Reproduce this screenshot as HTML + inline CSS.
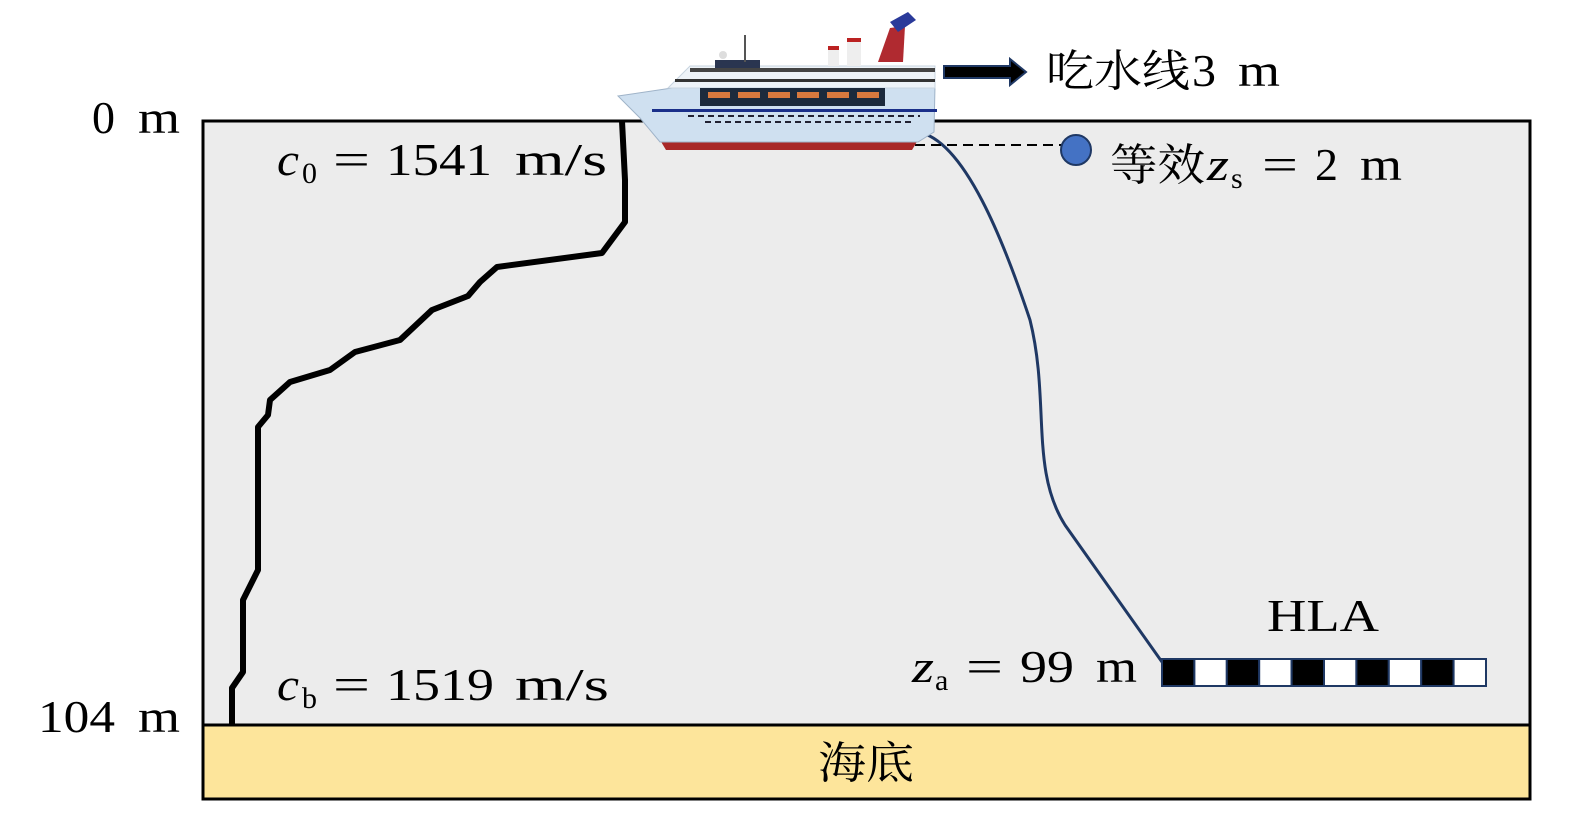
<!DOCTYPE html>
<html><head><meta charset="utf-8"><style>
html,body{margin:0;padding:0;background:#fff;}
svg text{font-family:"Liberation Serif","Noto Serif CJK SC",serif;font-size:46px;}
</style></head><body>
<svg width="1575" height="817" viewBox="0 0 1575 817" xmlns="http://www.w3.org/2000/svg">
<rect x="203" y="121" width="1327" height="604" fill="#ececec" stroke="#000" stroke-width="3"/>
<rect x="203" y="725" width="1327" height="74" fill="#fde59b" stroke="#000" stroke-width="3"/>
<text x="818" y="778" style="font-size:44px" textLength="96" lengthAdjust="spacingAndGlyphs">海底</text>
<text x="92" y="133" textLength="23" lengthAdjust="spacingAndGlyphs">0</text>
<text x="138" y="133" textLength="42" lengthAdjust="spacingAndGlyphs">m</text>
<text x="38" y="732" textLength="77" lengthAdjust="spacingAndGlyphs">104</text>
<text x="138" y="732" textLength="42" lengthAdjust="spacingAndGlyphs">m</text>
<polyline fill="none" stroke="#000" stroke-width="6" stroke-linejoin="round" points="622,121 625,180 625,222 602,253 497,267 480,282 468,296 432,310 400,340 355,352 330,370 290,382 270,400 268,415 258,427 258,570 243,600 243,672 232,688 232,725"/>
<g>
<text x="277" y="175" font-style="italic" textLength="22" lengthAdjust="spacingAndGlyphs">c</text>
<text x="302" y="183" style="font-size:30px">0</text>
<text x="333" y="175" textLength="37" lengthAdjust="spacingAndGlyphs">=</text>
<text x="386" y="175" textLength="106" lengthAdjust="spacingAndGlyphs">1541</text>
<text x="515" y="175" textLength="92" lengthAdjust="spacingAndGlyphs">m/s</text>
</g>
<g>
<text x="277" y="700" font-style="italic" textLength="22" lengthAdjust="spacingAndGlyphs">c</text>
<text x="302" y="708" style="font-size:30px">b</text>
<text x="333" y="700" textLength="37" lengthAdjust="spacingAndGlyphs">=</text>
<text x="386" y="700" textLength="108" lengthAdjust="spacingAndGlyphs">1519</text>
<text x="515" y="700" textLength="94" lengthAdjust="spacingAndGlyphs">m/s</text>
</g>
<path d="M918,132 C965,140 1005,245 1030,320 C1050,400 1030,470 1065,525 L1162,662" fill="none" stroke="#1f3864" stroke-width="3"/>
<line x1="915" y1="145" x2="1062" y2="145" stroke="#000" stroke-width="2" stroke-dasharray="10,6"/>
<circle cx="1076" cy="150" r="15" fill="#4472c4" stroke="#1f3864" stroke-width="2"/>
<g>
<text x="1110" y="180" style="font-size:44px" textLength="95" lengthAdjust="spacingAndGlyphs">等效</text>
<text x="1207" y="180" font-style="italic" textLength="22" lengthAdjust="spacingAndGlyphs">z</text>
<text x="1231" y="188" style="font-size:30px">s</text>
<text x="1262" y="180" textLength="36" lengthAdjust="spacingAndGlyphs">=</text>
<text x="1315" y="180" textLength="23" lengthAdjust="spacingAndGlyphs">2</text>
<text x="1360" y="180" textLength="42" lengthAdjust="spacingAndGlyphs">m</text>
</g>
<text x="1267" y="631" textLength="112" lengthAdjust="spacingAndGlyphs">HLA</text>
<g>
<text x="912" y="682" font-style="italic" textLength="22" lengthAdjust="spacingAndGlyphs">z</text>
<text x="935" y="690" style="font-size:30px">a</text>
<text x="966" y="682" textLength="37" lengthAdjust="spacingAndGlyphs">=</text>
<text x="1020" y="682" textLength="54" lengthAdjust="spacingAndGlyphs">99</text>
<text x="1096" y="682" textLength="41" lengthAdjust="spacingAndGlyphs">m</text>
</g>
<g stroke="#1f3864" stroke-width="2">
<rect x="1162" y="659" width="32.4" height="27" fill="#000"/>
<rect x="1194.4" y="659" width="32.4" height="27" fill="#fff"/>
<rect x="1226.8" y="659" width="32.4" height="27" fill="#000"/>
<rect x="1259.2" y="659" width="32.4" height="27" fill="#fff"/>
<rect x="1291.6" y="659" width="32.4" height="27" fill="#000"/>
<rect x="1324" y="659" width="32.4" height="27" fill="#fff"/>
<rect x="1356.4" y="659" width="32.4" height="27" fill="#000"/>
<rect x="1388.8" y="659" width="32.4" height="27" fill="#fff"/>
<rect x="1421.2" y="659" width="32.4" height="27" fill="#000"/>
<rect x="1453.6" y="659" width="32.4" height="27" fill="#fff"/>
</g>
<path d="M944,66 L1010,66 L1010,59 L1026,72 L1010,85 L1010,78 L944,78 Z" fill="#000" stroke="#1f3864" stroke-width="2"/>
<text x="1046" y="86" style="font-size:44px" textLength="144" lengthAdjust="spacingAndGlyphs">吃水线</text>
<text x="1192" y="86" textLength="24" lengthAdjust="spacingAndGlyphs">3</text>
<text x="1238" y="86" textLength="42" lengthAdjust="spacingAndGlyphs">m</text>
<!-- ship -->
<path d="M660,140 L918,140 L912,150 L666,150 Z" fill="#a82828"/>
<path d="M618,96 L672,88 L935,86 L934,132 L918,142 L660,142 L640,118 Z" fill="#cfe0f0" stroke="#9fb3c8" stroke-width="1"/>
<path d="M668,88 L690,66 L935,66 L935,88 Z" fill="#eef3f8" stroke="#c8d4e0" stroke-width="1"/>
<rect x="690" y="68" width="245" height="4" fill="#444"/>
<rect x="675" y="79" width="260" height="3" fill="#333"/>
<rect x="700" y="88" width="185" height="18" fill="#1c2a3c"/>
<g fill="#d8793e"><rect x="708" y="92" width="22" height="6"/><rect x="738" y="92" width="22" height="6"/><rect x="768" y="92" width="22" height="6"/><rect x="797" y="92" width="22" height="6"/><rect x="827" y="92" width="22" height="6"/><rect x="857" y="92" width="22" height="6"/></g>
<rect x="652" y="109" width="285" height="3" fill="#1a2f8a"/>
<line x1="688" y1="116" x2="920" y2="116" stroke="#223" stroke-width="2" stroke-dasharray="6,4"/>
<line x1="705" y1="122" x2="915" y2="122" stroke="#223" stroke-width="2" stroke-dasharray="6,4"/>
<rect x="715" y="60" width="45" height="8" fill="#2a3550"/>
<rect x="828" y="48" width="11" height="18" fill="#eee"/><rect x="828" y="46" width="11" height="4" fill="#b22"/>
<rect x="847" y="40" width="14" height="26" fill="#eee"/><rect x="847" y="38" width="14" height="4" fill="#b22"/>
<path d="M878,62 L890,28 L905,26 L903,62 Z" fill="#b02a30"/>
<path d="M890,22 L908,12 L916,20 L898,32 Z" fill="#2a3a9a"/>
<line x1="745" y1="35" x2="745" y2="62" stroke="#555" stroke-width="2"/>
<circle cx="723" cy="55" r="4" fill="#ddd"/>
</svg>
</body></html>
